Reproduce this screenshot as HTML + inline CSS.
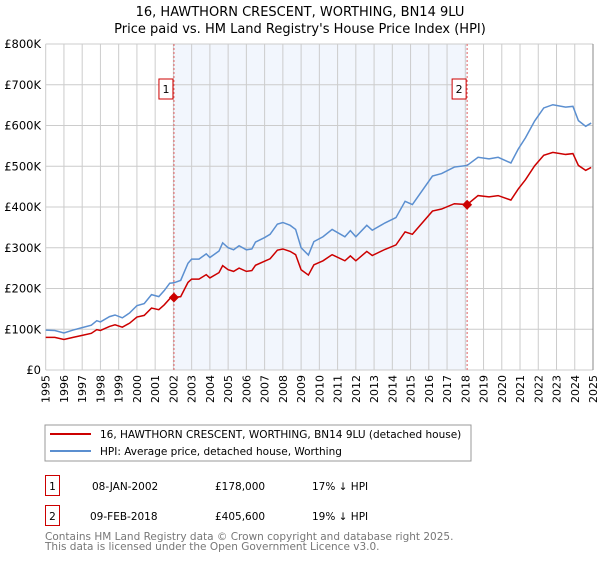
<!DOCTYPE html>
<html><head><meta charset="utf-8"><style>
body{margin:0;background:#fff;width:600px;height:560px;overflow:hidden;font-family:"DejaVu Sans","Liberation Sans",sans-serif}
svg text{font-family:"DejaVu Sans","Liberation Sans",sans-serif}
</style></head><body>
<svg id="c" width="600" height="560" xmlns="http://www.w3.org/2000/svg">
<text x="300" y="16" font-size="13" text-anchor="middle">16, HAWTHORN CRESCENT, WORTHING, BN14 9LU</text>
<text x="300" y="33" font-size="13" text-anchor="middle">Price paid vs. HM Land Registry's House Price Index (HPI)</text>
<g id="plot"></g>
<rect x="45" y="425" width="426" height="36" fill="#fff" stroke="#999"/>
<line x1="50" y1="434" x2="91" y2="434" stroke="#cc0000" stroke-width="2"/>
<text x="100" y="438" font-size="10.5">16, HAWTHORN CRESCENT, WORTHING, BN14 9LU (detached house)</text>
<line x1="50" y1="451" x2="91" y2="451" stroke="#5b8fd0" stroke-width="2"/>
<text x="100" y="455" font-size="10.5">HPI: Average price, detached house, Worthing</text>
<g>
<rect x="45.5" y="475.5" width="14" height="20" fill="none" stroke="#cc0000"/>
<text x="52.5" y="490" font-size="10.5" text-anchor="middle">1</text>
<text x="92" y="490" font-size="10.5">08-JAN-2002</text>
<text x="215" y="490" font-size="10.5">£178,000</text>
<text x="312" y="490" font-size="10.5">17% ↓ HPI</text>
</g>
<g>
<rect x="45.5" y="505.5" width="14" height="20" fill="none" stroke="#cc0000"/>
<text x="52.5" y="520" font-size="10.5" text-anchor="middle">2</text>
<text x="90" y="520" font-size="10.5">09-FEB-2018</text>
<text x="215" y="520" font-size="10.5">£405,600</text>
<text x="312" y="520" font-size="10.5">19% ↓ HPI</text>
</g>
<text x="45" y="540" font-size="10.5" fill="#777">Contains HM Land Registry data © Crown copyright and database right 2025.</text>
<text x="45" y="550" font-size="10.5" fill="#777">This data is licensed under the Open Government Licence v3.0.</text>
</svg>
<script>
const years=[1995,1995.5,1996,1996.5,1997,1997.5,1997.8,1998,1998.5,1998.8,1999.2,1999.6,2000,2000.4,2000.8,2001.2,2001.5,2001.8,2002.03,2002.4,2002.8,2003,2003.4,2003.8,2004,2004.5,2004.7,2005,2005.3,2005.6,2006,2006.3,2006.5,2007,2007.3,2007.7,2008,2008.4,2008.7,2009,2009.4,2009.7,2010.2,2010.7,2011.4,2011.7,2012,2012.6,2012.9,2013.6,2014.2,2014.7,2015.1,2016.2,2016.7,2017.4,2018.1,2018.7,2019.3,2019.8,2020.5,2020.9,2021.3,2021.8,2022.3,2022.8,2023.5,2023.9,2024.2,2024.6,2024.9];
const hpi=[98,97,91,98,104,110,121,118,131,135,128,140,158,163,185,180,195,213,214,220,262,272,272,285,276,292,312,300,295,305,295,297,314,325,333,358,362,355,345,300,282,315,327,345,327,342,327,355,343,361,374,414,406,476,482,498,502,522,518,522,508,542,570,611,643,651,645,647,612,598,606];
const price=[80,80,75,80,85,90,99,97,107,111,105,115,130,134,152,148,160,175,178,180,215,223,223,234,226,239,256,246,242,250,242,244,257,267,273,294,297,291,283,246,233,258,268,283,268,280,268,291,281,296,307,339,333,390,395,408,406,428,425,428,417,444,467,501,527,534,529,531,502,490,497];
const yTicks=[0,100,200,300,400,500,600,700,800];
const yTickLabels=["£0","£100K","£200K","£300K","£400K","£500K","£600K","£700K","£800K"];
const xTicks=[1995,1996,1997,1998,1999,2000,2001,2002,2003,2004,2005,2006,2007,2008,2009,2010,2011,2012,2013,2014,2015,2016,2017,2018,2019,2020,2021,2022,2023,2024,2025];
const saleYears=[2002.03,2018.1];
const saleValues=[178,405.6];
const saleLabels=["1","2"];
const X0=45.7,X1=593,Y0=370,Y1=44;
const xs=y=>X0+(y-1995)/(2025-1995)*(X1-X0);
const ys=v=>Y0-v/800*(Y0-Y1);
const NS="http://www.w3.org/2000/svg";
const g=document.getElementById('plot');
function mk(t,a){const e=document.createElementNS(NS,t);for(const k in a)e.setAttribute(k,a[k]);g.appendChild(e);return e;}
let e=mk('rect',{x:xs(saleYears[0]),y:Y1,width:xs(saleYears[1])-xs(saleYears[0]),height:Y0-Y1,fill:'#f2f6fd'});


xTicks.forEach((t,i)=>{
 let l=mk('line',{x1:xs(t),x2:xs(t),y1:Y1,y2:Y0,stroke:'#ccc','stroke-width':1});
 
 
 let tx=mk('text',{x:0,y:0,'font-size':11,'text-anchor':'end',transform:`translate(${xs(t)+4},375) rotate(-90)`});
 tx.textContent=t;
 
 
});
yTicks.forEach((t,i)=>{
 let l=mk('line',{x1:X0,x2:X1,y1:ys(t),y2:ys(t),stroke:'#ccc','stroke-width':1});
 
 
 let tx=mk('text',{x:41,y:ys(t)+4,'font-size':11.5,'text-anchor':'end'});
 tx.textContent=yTickLabels[i];
 
 
});
saleYears.forEach((s,i)=>{
 let l=mk('line',{x1:xs(s),x2:xs(s),y1:Y1,y2:Y0,stroke:'#e06060','stroke-dasharray':'2,2'});
 
 
 let r=mk('rect',{x:xs(s)-15,y:79,width:14,height:20,fill:'#fff',stroke:'#cc0000'});
 
 
 let tx=mk('text',{x:xs(s)-8,y:93,'font-size':11,'text-anchor':'middle'});
 tx.textContent=saleLabels[i];
 
 
});
e=mk('line',{x1:X1,x2:X1,y1:Y1,y2:Y0,stroke:'#888'});


let p=mk('polyline',{points:years.map((y,i)=>xs(y)+','+ys(hpi[i])).join(' '),fill:'none',stroke:'#5b8fd0','stroke-width':1.5});


p=mk('polyline',{points:years.map((y,i)=>xs(y)+','+ys(price[i])).join(' '),fill:'none',stroke:'#cc0000','stroke-width':1.5});


saleYears.forEach((s,i)=>{
 let d=mk('path',{d:`M${xs(s)},${ys(saleValues[i])-5}l5,5l-5,5l-5,-5z`,fill:'#cc0000'});
 
 
});
</script>
</body></html>
